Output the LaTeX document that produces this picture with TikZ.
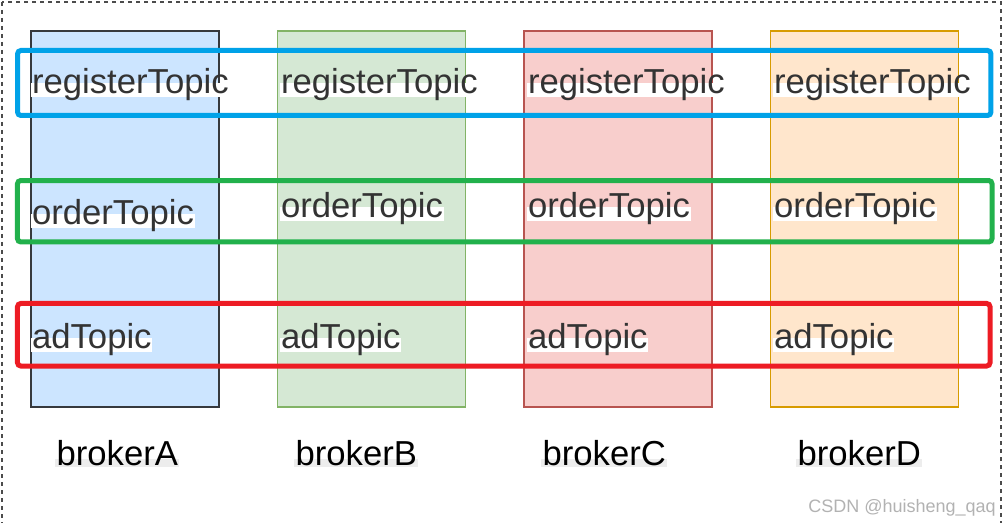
\documentclass[tikz,border=0pt]{standalone}
\usepackage{fontspec}
\setmainfont{Liberation Sans}
\usetikzlibrary{positioning}
\definecolor{brkafill}{HTML}{CCE5FF}
\definecolor{brkaline}{HTML}{36393D}
\definecolor{brkbfill}{HTML}{D5E8D4}
\definecolor{brkbline}{HTML}{82B366}
\definecolor{brkcfill}{HTML}{F8CECC}
\definecolor{brkcline}{HTML}{B85450}
\definecolor{brkdfill}{HTML}{FFE6CC}
\definecolor{brkdline}{HTML}{D79B00}
\definecolor{rowblue}{HTML}{00A2E8}
\definecolor{rowgreen}{HTML}{22B14C}
\definecolor{rowred}{HTML}{ED1C24}
\definecolor{topictext}{HTML}{333333}

\begin{document}
\begin{tikzpicture}[
  x=0.75pt, y=-0.75pt,
  broker/.style={rectangle, line width=0.9pt, minimum width=141pt,
                 minimum height=282pt, inner sep=0pt},
  row/.style={rectangle, rounded corners=2.5pt, line width=3.75pt,
              inner sep=0pt},
  topic/.style={font=\fontsize{26}{30}\selectfont, text=topictext,
                fill=white, inner xsep=0.6pt, inner ysep=0pt,
                text height=0.86em, text depth=0.2em, anchor=base west},
  brklbl/.style={font=\fontsize{26}{30}\selectfont, text=black,
                 fill=black!7, inner xsep=1pt, inner ysep=0pt,
                 text height=0.46em, text depth=0.12em, anchor=base west},
  outerframe/.style={draw=black!70, dashed, line width=0.9pt},
]
\useasboundingbox (0,0) rectangle (1005,523);
\draw[outerframe] (2,2) rectangle (1001,540);
% brokers
\node (brkA) [broker, fill=brkafill, draw=brkaline] at (125,219) {};
\node (brkB) [broker, fill=brkbfill, draw=brkbline] at (371.5,219) {};
\node (brkC) [broker, fill=brkcfill, draw=brkcline] at (618,219) {};
\node (brkD) [broker, fill=brkdfill, draw=brkdline] at (864.5,219) {};
% topic rows
\node (rowreg) [row, draw=rowblue, minimum width=730pt, minimum height=48.75pt]
  at (504.25,83) {};
\node (roword) [row, draw=rowgreen, minimum width=730.9pt, minimum height=46.1pt]
  at (504.75,211.25) {};
\node (rowad) [row, draw=rowred, minimum width=729.4pt, minimum height=46.9pt]
  at (503.75,334.75) {};
% topic labels
\node (regA) [topic] at (31,94) {registerTopic};
\node (regB) [topic] at (280,94) {registerTopic};
\node (regC) [topic] at (527,94) {registerTopic};
\node (regD) [topic] at (773,94) {registerTopic};
\node (ordA) [topic] at (31,225) {orderTopic};
\node (ordB) [topic] at (280,218) {orderTopic};
\node (ordC) [topic] at (527,218) {orderTopic};
\node (ordD) [topic] at (773,218) {orderTopic};
\node (adA) [topic] at (31,349) {adTopic};
\node (adB) [topic] at (280,349) {adTopic};
\node (adC) [topic] at (527,349) {adTopic};
\node (adD) [topic] at (773,349) {adTopic};
% broker names
\node (lblA) [brklbl] at (55,465) {brokerA};
\node (lblB) [brklbl] at (294,465) {brokerB};
\node (lblC) [brklbl] at (541,465) {brokerC};
\node (lblD) [brklbl] at (796,465) {brokerD};
\node (csdn) [font=\fontsize{13.5}{16}\selectfont, text=black!30,
  inner sep=0pt, anchor=base west] at (808,512) {CSDN @huisheng\_qaq};
\end{tikzpicture}
\end{document}
